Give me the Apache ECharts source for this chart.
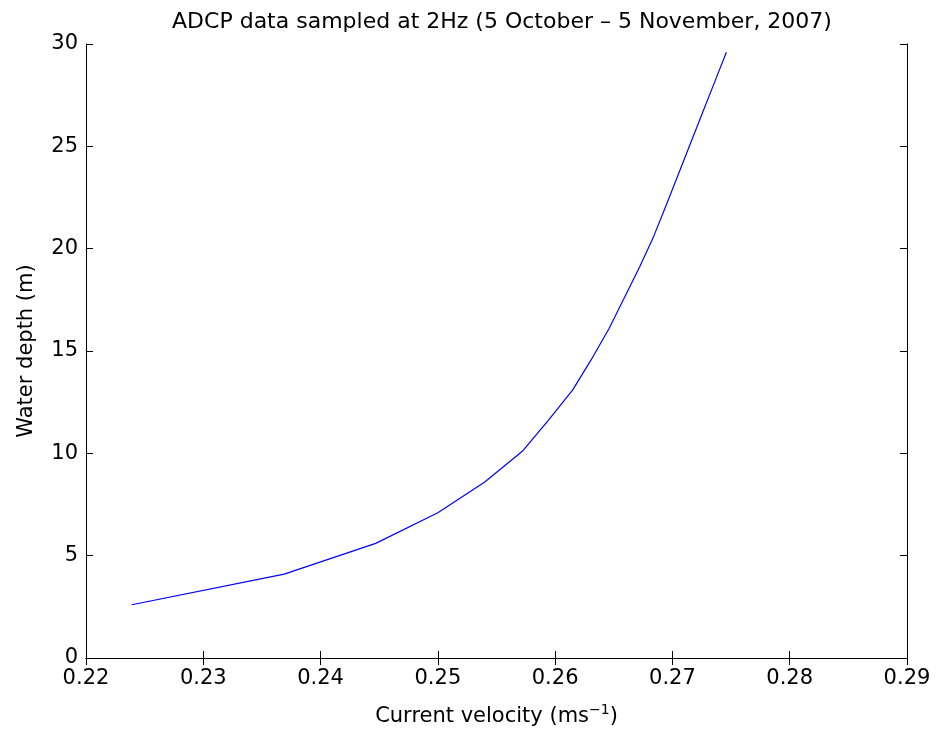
<!DOCTYPE html>
<html>
<head>
<meta charset="utf-8">
<script src="https://cdn.jsdelivr.net/npm/echarts@6/dist/echarts.min.js"></script>
<style>
html,body{margin:0;padding:0;background:#fff;}
#chart{width:937px;height:734px;}
</style>
</head>
<body>
<div id="chart"></div>
<script>
// Data
const waterDepth = [2.6, 4.1, 5.6, 7.1, 8.6, 10.1, 11.6, 13.1, 14.6, 16.1, 17.6, 19.1, 20.6, 22.1, 23.6, 25.1, 26.6, 28.1, 29.6];
const currentVelocity = [0.2239, 0.2369, 0.2447, 0.2500, 0.2540, 0.2572, 0.2594, 0.2615, 0.2631, 0.2646, 0.2659, 0.2672, 0.2684, 0.26945, 0.27048, 0.27151, 0.27254, 0.27357, 0.2746];
const xTicks = [0.22, 0.23, 0.24, 0.25, 0.26, 0.27, 0.28, 0.29];
const yTicks = [0, 5, 10, 15, 20, 25, 30];
const titleText = 'ADCP data sampled at 2Hz (5 October \u2013 5 November, 2007)';

const FONT = 'DejaVu Sans';
const chart = echarts.init(document.getElementById('chart'), null, {renderer: 'canvas'});
const points = currentVelocity.map((v, i) => [v, waterDepth[i]]);

const axisLineStyle = {show: true, lineStyle: {color: '#000', width: 1}};
const tickStyle = {show: true, inside: true, length: 7, lineStyle: {color: '#000', width: 1}};

chart.setOption({
  animation: false,
  backgroundColor: '#fff',
  textStyle: {fontFamily: FONT},
  title: {
    text: titleText,
    left: 497, top: 6,
    textAlign: 'center',
    textStyle: {fontFamily: FONT, fontSize: 22, fontWeight: 'normal', color: '#000'}
  },
  grid: {left: 86, right: 30, top: 44, bottom: 76, containLabel: false},
  xAxis: [{
    type: 'value',
    min: xTicks[0], max: xTicks[xTicks.length - 1], interval: 0.01,
    position: 'bottom',
    axisLine: axisLineStyle, axisTick: tickStyle, splitLine: {show: false},
    axisLabel: {color: '#000', fontFamily: FONT, fontSize: 21, margin: 10,
      formatter: v => v.toFixed(2)},
    name: '{n|Current velocity (ms}{s|\u22121}{n|)}',
    nameLocation: 'middle', nameGap: 45,
    nameTextStyle: {rich: {
      n: {fontFamily: FONT, fontSize: 21, color: '#000', verticalAlign: 'bottom'},
      s: {fontFamily: FONT, fontSize: 14, color: '#000', verticalAlign: 'bottom', padding: [0, 0, 10, 0]}
    }}
  }, {
    type: 'value',
    min: xTicks[0], max: xTicks[xTicks.length - 1], interval: 0.01,
    position: 'top',
    axisLine: axisLineStyle, axisTick: tickStyle, splitLine: {show: false},
    axisLabel: {show: false}
  }],
  yAxis: [{
    type: 'value',
    min: yTicks[0], max: yTicks[yTicks.length - 1], interval: 5,
    position: 'left',
    axisLine: axisLineStyle, axisTick: tickStyle, splitLine: {show: false},
    axisLabel: {color: '#000', fontFamily: FONT, fontSize: 21, margin: 8},
    name: 'Water depth (m)',
    nameLocation: 'middle', nameGap: 49, nameRotate: 90,
    nameTextStyle: {fontFamily: FONT, fontSize: 21, color: '#000'}
  }, {
    type: 'value',
    min: yTicks[0], max: yTicks[yTicks.length - 1], interval: 5,
    position: 'right',
    axisLine: axisLineStyle, axisTick: tickStyle, splitLine: {show: false},
    axisLabel: {show: false}
  }],
  series: [{
    type: 'line',
    data: points,
    xAxisIndex: 0, yAxisIndex: 0,
    showSymbol: false,
    symbol: 'none',
    lineStyle: {color: '#0000ff', width: 1.2},
    silent: true
  }]
});
</script>
</body>
</html>
